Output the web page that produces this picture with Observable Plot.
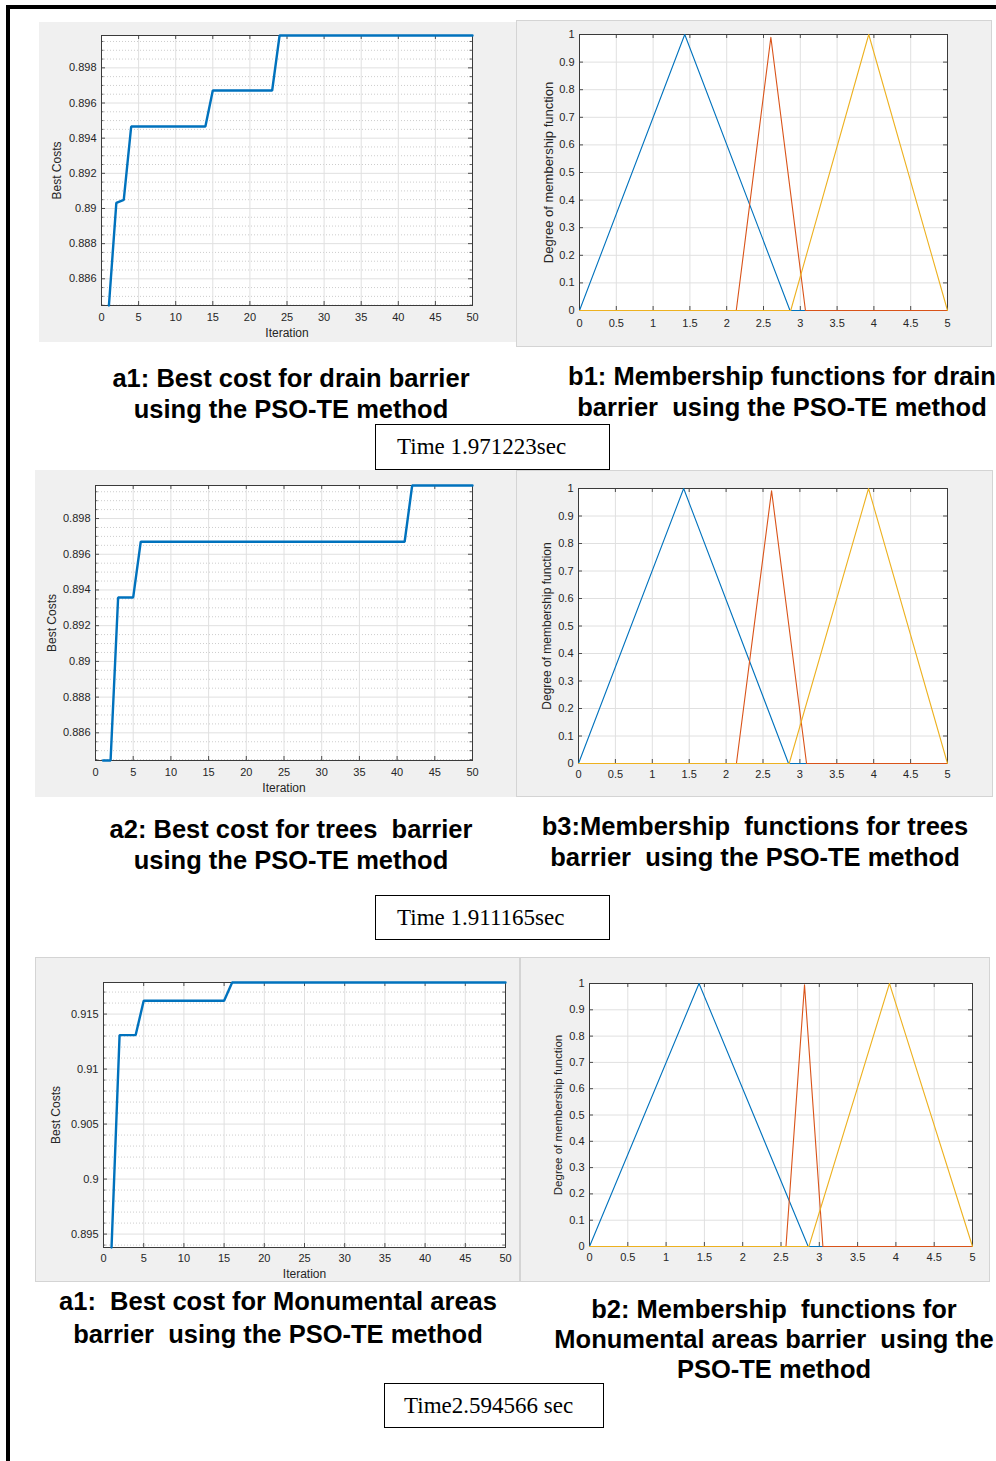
<!DOCTYPE html>
<html><head><meta charset="utf-8">
<script src="https://cdn.jsdelivr.net/npm/d3@7"></script>
<script src="https://cdn.jsdelivr.net/npm/@observablehq/plot@0.6"></script>
<style>
html,body{margin:0;padding:0;background:#fff;}
body{width:996px;height:1461px;position:relative;overflow:hidden;font-family:"Liberation Sans",Arial,sans-serif;}
.panel{position:absolute;background:#f0f0f0;}
.panel svg{display:block;}
.outl{outline:1px solid #d4d4d4;outline-offset:-1px;}
.cap{position:absolute;width:700px;text-align:center;font-weight:bold;font-size:25.5px;line-height:30px;white-space:pre;color:#000;}
.tbox{position:absolute;border:1px solid #000;box-sizing:border-box;font-family:"Liberation Serif","Times New Roman",serif;font-size:23px;white-space:pre;color:#000;}
.bar{position:absolute;background:#000;}
</style></head><body>
<div class="bar" style="left:7px;top:5px;width:989px;height:4px"></div>
<div class="bar" style="left:6px;top:5px;width:4px;height:1456px"></div>
<script>
// ---------- data ----------
const iterTicks = [0,5,10,15,20,25,30,35,40,45,50];
const costTicksA = [0.886,0.888,0.89,0.892,0.894,0.896,0.898];
const costTicksMonu = [0.895,0.9,0.905,0.91,0.915];

const costDrain = [
  0.88448, 0.89032, 0.89049,
  0.89466,0.89466,0.89466,0.89466,0.89466,0.89466,0.89466,0.89466,0.89466,0.89466,0.89466,
  0.89671,0.89671,0.89671,0.89671,0.89671,0.89671,0.89671,0.89671,0.89671,
  0.89984,0.89984,0.89984,0.89984,0.89984,0.89984,0.89984,0.89984,0.89984,0.89984,
  0.89984,0.89984,0.89984,0.89984,0.89984,0.89984,0.89984,0.89984,0.89984,0.89984,
  0.89984,0.89984,0.89984,0.89984,0.89984,0.89984,0.89984
];
const costTrees = [
  0.88445, 0.88445,
  0.89358,0.89358,0.89358,
  0.8967,0.8967,0.8967,0.8967,0.8967,0.8967,0.8967,0.8967,0.8967,0.8967,
  0.8967,0.8967,0.8967,0.8967,0.8967,0.8967,0.8967,0.8967,0.8967,0.8967,
  0.8967,0.8967,0.8967,0.8967,0.8967,0.8967,0.8967,0.8967,0.8967,0.8967,
  0.8967,0.8967,0.8967,0.8967,0.8967,0.8967,
  0.89985,0.89985,0.89985,0.89985,0.89985,0.89985,0.89985,0.89985,0.89985
];
const costMonu = [
  0.89378,
  0.91309,0.91309,0.91309,
  0.91621,0.91621,0.91621,0.91621,0.91621,0.91621,0.91621,0.91621,0.91621,0.91621,0.91621,
  0.91787,0.91787,0.91787,0.91787,0.91787,0.91787,0.91787,0.91787,0.91787,0.91787,
  0.91787,0.91787,0.91787,0.91787,0.91787,0.91787,0.91787,0.91787,0.91787,0.91787,
  0.91787,0.91787,0.91787,0.91787,0.91787,0.91787,0.91787,0.91787,0.91787,0.91787,
  0.91787,0.91787,0.91787,0.91787,0.91787
];

const mfXTicks = [0,0.5,1,1.5,2,2.5,3,3.5,4,4.5,5];
const mfYTicks = [0,0.1,0.2,0.3,0.4,0.5,0.6,0.7,0.8,0.9,1];

// membership functions (x breakpoints, y values), drawn in order blue, red, yellow
const mfDrainBlueX = [0,1.43,2.86,5],        mfDrainBlueY = [0,1,0,0];
const mfDrainRedX  = [0,2.13,2.6,3.07,5],    mfDrainRedY  = [0,0,0.99,0,0];
const mfDrainYelX  = [0,2.87,3.93,5],        mfDrainYelY  = [0,0,1,0];

const mfTreesBlueX = [0,1.425,2.846,5],      mfTreesBlueY = [0,1,0,0];
const mfTreesRedX  = [0,2.14,2.616,3.09,5],  mfTreesRedY  = [0,0,0.992,0,0];
const mfTreesYelX  = [0,2.855,3.93,5],       mfTreesYelY  = [0,0,1,0];

const mfMonuBlueX = [0,1.43,2.855,5],        mfMonuBlueY = [0,1,0,0];
const mfMonuRedX  = [0,2.565,2.807,3.047,5], mfMonuRedY  = [0,0,0.995,0,0];
const mfMonuYelX  = [0,2.864,3.916,5],       mfMonuYelY  = [0,0,1,0];

const captions = [
  {lines:["a1: Best cost for drain barrier","using the PSO-TE method"], cx:291, cy:[377,408.5]},
  {lines:["b1: Membership functions for drain","barrier  using the PSO-TE method"], cx:782, cy:[375.5,406.5]},
  {lines:["a2: Best cost for trees  barrier","using the PSO-TE method"], cx:291, cy:[828,859]},
  {lines:["b3:Membership  functions for trees","barrier  using the PSO-TE method"], cx:755, cy:[825,856]},
  {lines:["a1:  Best cost for Monumental areas","barrier  using the PSO-TE method"], cx:278, cy:[1300,1333]},
  {lines:["b2: Membership  functions for","Monumental areas barrier  using the","PSO-TE method"], cx:774, cy:[1308,1338,1368]}
];
const timeLabels = ["Time 1.971223sec","Time 1.911165sec","Time2.594566 sec"];

// ---------- layout ----------
const FONT = '"Liberation Sans", Arial, Helvetica, sans-serif';
const AX = "#262626";
const GRID = "#e0e0e0";

function addPanel(el, left, top, outline) {
  const d = document.createElement("div");
  d.className = "panel" + (outline ? " outl" : "");
  d.style.left = left + "px"; d.style.top = top + "px";
  d.appendChild(el);
  document.body.appendChild(d);
}

function innerTicks(xt, yt, fw, fh, len) {
  return [
    Plot.tickX(xt, {x: d => d, insetTop: fh - len, stroke: AX, strokeWidth: 0.8}),
    Plot.tickX(xt, {x: d => d, insetBottom: fh - len, stroke: AX, strokeWidth: 0.8}),
    Plot.tickY(yt, {y: d => d, insetRight: fw - len, stroke: AX, strokeWidth: 0.8}),
    Plot.tickY(yt, {y: d => d, insetLeft: fw - len, stroke: AX, strokeWidth: 0.8})
  ];
}

function costPlot({data, yTicks, yMinor, w, h, m, pad, lDx, lDy}) {
  const ext = d3.extent(data);
  const rows = data.map((v, i) => ({it: i + 1, v}));
  const fw = w - m[1] - m[3], fh = h - m[0] - m[2];
  const minor = yMinor.filter(v => v >= ext[0] && v <= ext[1] && !yTicks.some(t => Math.abs(t - v) < 1e-9));
  const fmt = d => String(+d.toFixed(3));
  return Plot.plot({
    width: w, height: h,
    marginTop: m[0], marginRight: m[1], marginBottom: m[2], marginLeft: m[3],
    style: {background: "#f0f0f0", fontFamily: FONT, fontSize: "11px", color: AX, overflow: "visible"},
    x: {domain: [0, 50], axis: null},
    y: {domain: ext, axis: null},
    marks: [
      Plot.frame({fill: "white", stroke: null}),
      Plot.gridY(minor, {stroke: "#cdcdcd", strokeOpacity: 1, strokeDasharray: "1,2"}),
      Plot.gridX(iterTicks, {stroke: GRID, strokeOpacity: 1}),
      Plot.gridY(yTicks, {stroke: GRID, strokeOpacity: 1}),
      ...innerTicks(iterTicks, yTicks, fw, fh, 4),
      Plot.tickY(minor, {y: d => d, insetRight: fw - 2.5, stroke: AX, strokeWidth: 0.7}),
      Plot.tickY(minor, {y: d => d, insetLeft: fw - 2.5, stroke: AX, strokeWidth: 0.7}),
      Plot.frame({stroke: "#3a3a3a", strokeWidth: 1}),
      Plot.line(rows, {x: "it", y: "v", stroke: "#0072BD", strokeWidth: 2.4, strokeLinejoin: "miter"}),
      Plot.axisX(iterTicks, {tickSize: 0, tickPadding: pad, fontSize: 11, label: null, fill: AX}),
      Plot.axisY(yTicks, {tickSize: 0, tickPadding: 5, fontSize: 11, label: null, tickFormat: fmt, fill: AX}),
      Plot.text(["Iteration"], {frameAnchor: "bottom", dy: lDy, fontSize: 12, textAnchor: "middle", lineAnchor: "middle", fill: AX}),
      Plot.text(["Best Costs"], {frameAnchor: "left", dx: lDx, rotate: -90, fontSize: 12, textAnchor: "middle", lineAnchor: "middle", fill: AX})
    ]
  });
}

function mfPlot({series, w, h, m, pad, lDx, lSize}) {
  const fw = w - m[1] - m[3], fh = h - m[0] - m[2];
  const lines = series.map(s => Plot.line(s.x.map((x, i) => ({x, y: s.y[i]})), {x: "x", y: "y", stroke: s.color, strokeWidth: 1.1}));
  return Plot.plot({
    width: w, height: h,
    marginTop: m[0], marginRight: m[1], marginBottom: m[2], marginLeft: m[3],
    style: {background: "#f0f0f0", fontFamily: FONT, fontSize: "11px", color: AX, overflow: "visible"},
    x: {domain: [0, 5], axis: null},
    y: {domain: [0, 1], axis: null},
    marks: [
      Plot.frame({fill: "white", stroke: null}),
      Plot.gridX(mfXTicks, {stroke: GRID, strokeOpacity: 1}),
      Plot.gridY(mfYTicks, {stroke: GRID, strokeOpacity: 1}),
      ...innerTicks(mfXTicks, mfYTicks, fw, fh, 4),
      Plot.frame({stroke: "#3a3a3a", strokeWidth: 1}),
      ...lines,
      Plot.axisX(mfXTicks, {tickSize: 0, tickPadding: pad, fontSize: 11, label: null, tickFormat: d => String(d), fill: AX}),
      Plot.axisY(mfYTicks, {tickSize: 0, tickPadding: 5, fontSize: 11, label: null, tickFormat: d => String(d), fill: AX}),
      Plot.text(["Degree of membership function"], {frameAnchor: "left", dx: lDx, rotate: -90, fontSize: lSize, textAnchor: "middle", lineAnchor: "middle", fill: AX})
    ]
  });
}

const BLUE = "#0072BD", RED = "#D95319", YEL = "#EDB120";

// panels
addPanel(costPlot({data: costDrain, yTicks: costTicksA, yMinor: d3.range(1769, 1800).map(i => i / 2000),
  w: 477, h: 320, m: [13, 44, 37, 62], pad: 7.7, lDx: -44, lDy: 28}), 39, 22, false);

addPanel(mfPlot({series: [
    {x: mfDrainBlueX, y: mfDrainBlueY, color: BLUE},
    {x: mfDrainRedX, y: mfDrainRedY, color: RED},
    {x: mfDrainYelX, y: mfDrainYelY, color: YEL}],
  w: 476, h: 327, m: [14, 45, 37, 63], pad: 8.7, lDx: -30.7, lSize: 13}), 516, 20, true);

addPanel(costPlot({data: costTrees, yTicks: costTicksA, yMinor: d3.range(1769, 1800).map(i => i / 2000),
  w: 481, h: 327, m: [15, 44, 37, 60], pad: 7.7, lDx: -43.5, lDy: 28}), 35, 470, false);

addPanel(mfPlot({series: [
    {x: mfTreesBlueX, y: mfTreesBlueY, color: BLUE},
    {x: mfTreesRedX, y: mfTreesRedY, color: RED},
    {x: mfTreesYelX, y: mfTreesYelY, color: YEL}],
  w: 477, h: 327, m: [18, 46, 34, 62], pad: 6.6, lDx: -31, lSize: 12}), 516, 470, true);

addPanel(costPlot({data: costMonu, yTicks: costTicksMonu, yMinor: d3.range(894, 918).map(i => i / 1000),
  w: 485, h: 325, m: [25, 15, 35, 68], pad: 6.6, lDx: -47, lDy: 26.5}), 35, 957, true);

addPanel(mfPlot({series: [
    {x: mfMonuBlueX, y: mfMonuBlueY, color: BLUE},
    {x: mfMonuRedX, y: mfMonuRedY, color: RED},
    {x: mfMonuYelX, y: mfMonuYelY, color: YEL}],
  w: 470, h: 325, m: [26, 18, 36, 69], pad: 6.7, lDx: -31.6, lSize: 11.5}), 520, 957, true);

// captions
captions.forEach(c => {
  c.lines.forEach((t, i) => {
    const d = document.createElement("div");
    d.className = "cap";
    d.textContent = t;
    d.style.left = (c.cx - 350) + "px";
    d.style.top = (c.cy[i] - 14.25) + "px";
    document.body.appendChild(d);
  });
});

// time boxes
const boxes = [
  {left: 375, top: 424, w: 235, h: 46, padL: 21},
  {left: 375, top: 895, w: 235, h: 45, padL: 21},
  {left: 384, top: 1383, w: 220, h: 45, padL: 19}
];
boxes.forEach((b, i) => {
  const d = document.createElement("div");
  d.className = "tbox";
  d.style.left = b.left + "px"; d.style.top = b.top + "px";
  d.style.width = b.w + "px"; d.style.height = b.h + "px";
  d.style.lineHeight = (b.h - 2) + "px";
  d.style.paddingLeft = b.padL + "px";
  d.textContent = timeLabels[i];
  document.body.appendChild(d);
});
</script>
</body></html>
